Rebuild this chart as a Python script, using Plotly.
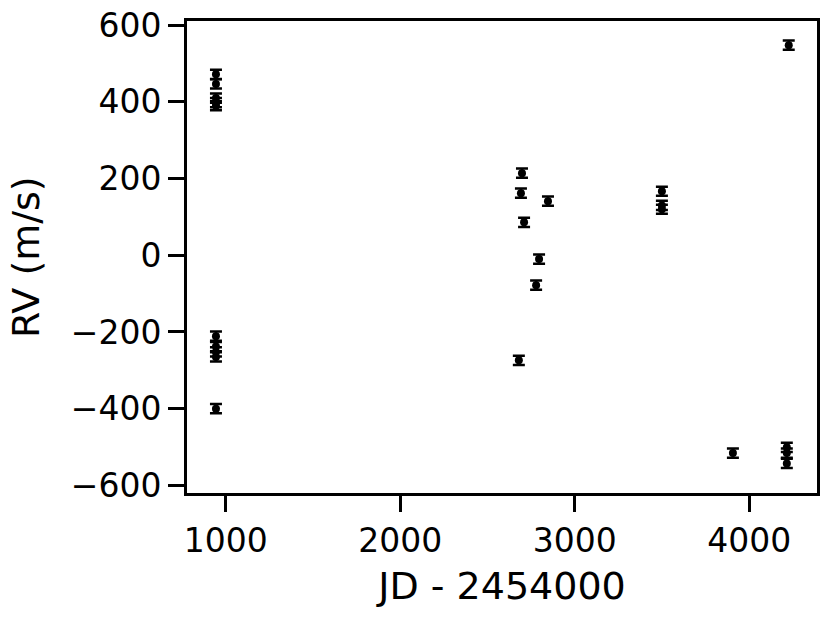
import plotly.graph_objects as go

jd = [944, 944, 944, 944, 944, 944, 944, 944, 944, 944,
      2698, 2692, 2847, 2710, 2796, 2779, 2680, 3500, 3500, 3500,
      3907, 4216, 4216, 4216, 4227]
rv = [472, 447, 410, 398, 390, -211, -238, -252, -265, -400,
      214, 162, 141, 86, -10, -78, -274, 167, 130, 120,
      -516, -501, -516, -543, 548]
rv_err = [12] * len(rv)

x_ticks = [1000, 2000, 3000, 4000]
y_ticks = [-600, -400, -200, 0, 200, 400, 600]

fig = go.Figure()
fig.add_trace(go.Scatter(
    x=jd, y=rv, mode="markers",
    marker=dict(color="black", size=8),
    error_y=dict(type="data", array=rv_err, visible=True, color="black",
                 thickness=2.5, width=6),
    showlegend=False,
))

axis_common = dict(
    showline=True, linecolor="black", linewidth=3, mirror=True,
    ticks="outside", ticklen=16, tickwidth=3, tickcolor="black",
    showgrid=False, zeroline=False, automargin=False,
    ticklabeloverflow="allow",
    tickfont=dict(family="DejaVu Sans", size=33, color="black"),
)

fig.update_layout(
    width=831, height=617,
    margin=dict(l=187, r=14, t=21, b=124),
    plot_bgcolor="white", paper_bgcolor="white",
    font=dict(family="DejaVu Sans", color="black"),
    xaxis=dict(range=[778, 4389], tickvals=x_ticks,
               title=dict(text="JD - 2454000", font=dict(size=38), standoff=14),
               **axis_common),
    yaxis=dict(range=[-620, 611], tickvals=y_ticks,
               ticktext=[str(v).replace("-", "\u2212") for v in y_ticks],
               **axis_common),
    annotations=[dict(
        text="RV (m/s)", xref="paper", yref="paper", x=0, y=0.5,
        xanchor="center", yanchor="middle", xshift=-161, textangle=-90,
        showarrow=False, font=dict(family="DejaVu Sans", size=38, color="black"),
    )],
)

fig.write_html("out.html",
               config={"displayModeBar": False},
               post_script="document.body.style.margin='0';document.body.style.padding='0';")
